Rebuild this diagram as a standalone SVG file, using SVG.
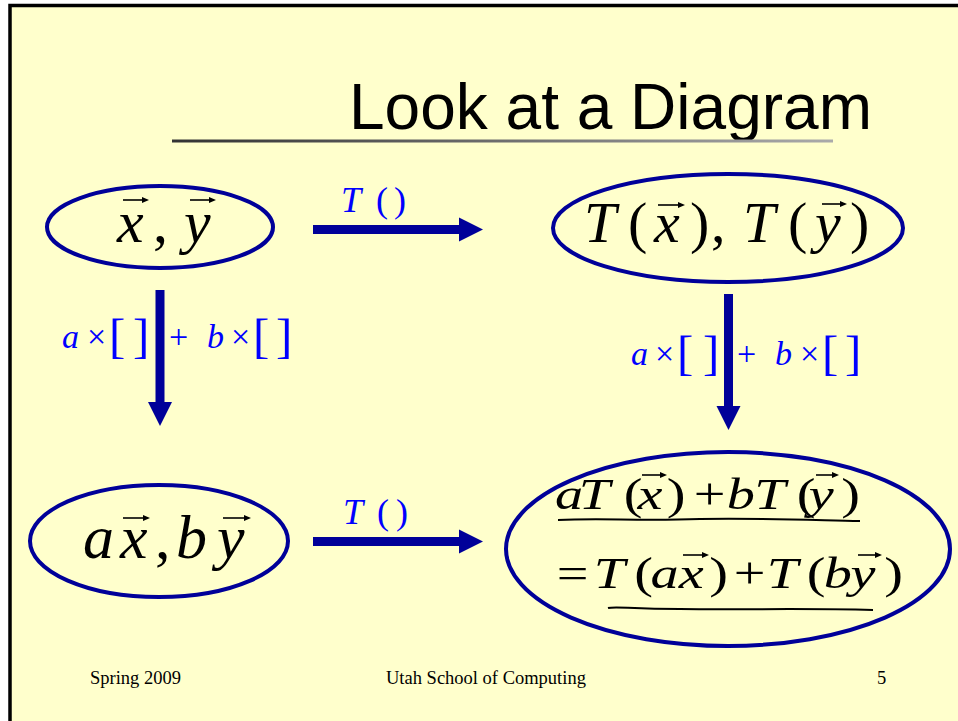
<svg xmlns="http://www.w3.org/2000/svg" width="958" height="721" viewBox="0 0 958 721">
<style>
.node ellipse{fill:none;stroke:#000099;stroke-width:4}
.m{font-family:"Liberation Serif","Times New Roman",serif;fill:#000}
.i{font-style:italic}
.lbl{font-family:"Liberation Serif","Times New Roman",serif;fill:#0000FF}
.vec{stroke:#000;stroke-width:1.6;fill:none}
.conn line{stroke:#000099;stroke-width:9}
.foot{font-family:"Liberation Serif","Times New Roman",serif;font-size:18.5px;fill:#000}
.ul{fill:none;stroke:#000;stroke-width:2}
</style>
<defs>
<linearGradient id="tg" x1="0" x2="1" y1="0" y2="0">
<stop offset="0" stop-color="#333333"/>
<stop offset="1" stop-color="#aaaaaa"/>
</linearGradient>
<marker id="ah" markerUnits="userSpaceOnUse" markerWidth="26" markerHeight="26" refX="2" refY="12" orient="auto" viewBox="0 0 26 24">
<path d="M0,0 L24,12 L0,24 Z" fill="#000099"/>
</marker>
<marker id="va" markerUnits="userSpaceOnUse" markerWidth="8" markerHeight="8" refX="1" refY="3" orient="auto" viewBox="0 0 8 6">
<path d="M0,0 L7,3 L0,6 Z" fill="#000"/>
</marker>
</defs>
<rect x="0" y="0" width="958" height="721" fill="#ffffff"/>
<rect x="10" y="5.5" width="960" height="730" fill="#FFFFCC" stroke="#000" stroke-width="3.5"/>

<g id="title">
<text x="349" y="129" font-family="'Liberation Sans',Arial,sans-serif" font-size="64" fill="#000">Look at a Diagram</text>
<rect x="172" y="139.5" width="661" height="3" fill="url(#tg)"/>
</g>

<g id="node-xy" class="node">
<ellipse cx="160" cy="227" rx="113" ry="41"/>
<text class="m i" font-size="60" y="242"><tspan x="117">x</tspan></text>
<text class="m" font-size="60" y="242"><tspan x="153">,</tspan></text>
<text class="m i" font-size="60" y="242"><tspan x="184">y</tspan></text>
<path class="vec" d="M123,200 H143" marker-end="url(#va)"/>
<path class="vec" d="M190,200 H210" marker-end="url(#va)"/>
</g>

<g id="node-Txy" class="node">
<ellipse cx="728" cy="228" rx="175" ry="54"/>
<text class="m i" font-size="58" y="242"><tspan x="584">T</tspan><tspan x="654">x</tspan><tspan x="743">T</tspan><tspan x="815">y</tspan></text>
<text class="m" font-size="58" y="242"><tspan x="628">(</tspan><tspan x="690">)</tspan><tspan x="711">,</tspan><tspan x="788">(</tspan><tspan x="850">)</tspan></text>
<path class="vec" d="M658,205 H679" marker-end="url(#va)"/>
<path class="vec" d="M822,204 H841" marker-end="url(#va)"/>
</g>

<g id="node-axby" class="node">
<ellipse cx="159" cy="541" rx="129" ry="56"/>
<text class="m i" font-size="62" y="558"><tspan x="83">a</tspan><tspan x="120">x</tspan><tspan x="176">b</tspan><tspan x="217">y</tspan></text>
<text class="m" font-size="62" y="558"><tspan x="155">,</tspan></text>
<path class="vec" d="M123,518 H144" marker-end="url(#va)"/>
<path class="vec" d="M223,518 H245" marker-end="url(#va)"/>
</g>

<g id="node-result" class="node">
<ellipse cx="728" cy="549" rx="222" ry="97"/>
<g transform="matrix(1.25 0 0 1 0 0)">
<text class="m i" font-size="45" y="509"><tspan x="444">a</tspan><tspan x="463">T</tspan><tspan x="510">x</tspan><tspan x="581.5">b</tspan><tspan x="603.5">T</tspan><tspan x="647">y</tspan></text>
<text class="m" font-size="45" y="509"><tspan x="499">(</tspan><tspan x="533.5">)</tspan><tspan x="555">+</tspan><tspan x="637.5">(</tspan><tspan x="673">)</tspan></text>
<text class="m i" font-size="45" y="588"><tspan x="475">T</tspan><tspan x="520.5">a</tspan><tspan x="543">x</tspan><tspan x="613.5">T</tspan><tspan x="659">b</tspan><tspan x="680.5">y</tspan></text>
<text class="m" font-size="45" y="588"><tspan x="445.5">=</tspan><tspan x="507.5">(</tspan><tspan x="567.5">)</tspan><tspan x="587">+</tspan><tspan x="645.5">(</tspan><tspan x="707.5">)</tspan></text>
</g>
<path class="vec" d="M642,475 H661" marker-end="url(#va)"/>
<path class="vec" d="M816,475 H833" marker-end="url(#va)"/>
<path class="vec" d="M683,555 H703" marker-end="url(#va)"/>
<path class="vec" d="M858,555 H876" marker-end="url(#va)"/>
<path class="ul" d="M558,520 C600,518 640,521 700,519 C760,518 810,520 860,521"/>
<path class="ul" d="M608,608 C615,606 630,609 680,609 C740,610 800,608 873,610"/>
</g>

<g id="connectors" class="conn">
<line x1="313" y1="229.5" x2="461" y2="229.5" marker-end="url(#ah)"/>
<line x1="313" y1="541.5" x2="461" y2="541.5" marker-end="url(#ah)"/>
<line x1="160" y1="290" x2="160" y2="404" marker-end="url(#ah)"/>
<line x1="728.5" y1="294" x2="728.5" y2="408" marker-end="url(#ah)"/>
</g>

<g id="labels">
<text class="lbl" font-size="36" y="212"><tspan x="341" font-style="italic">T</tspan><tspan x="376">(</tspan><tspan x="394">)</tspan></text>
<text class="lbl" font-size="36" y="524"><tspan x="343" font-style="italic">T</tspan><tspan x="377">(</tspan><tspan x="396">)</tspan></text>

<text class="lbl" font-size="34" y="348"><tspan x="62" font-style="italic">a</tspan><tspan x="87">×</tspan><tspan x="169">+</tspan><tspan x="207" font-style="italic">b</tspan><tspan x="231">×</tspan></text>
<text class="lbl" font-size="49" y="352"><tspan x="109">[</tspan><tspan x="133">]</tspan><tspan x="253">[</tspan><tspan x="276">]</tspan></text>

<text class="lbl" font-size="34" y="365"><tspan x="631" font-style="italic">a</tspan><tspan x="655">×</tspan><tspan x="737">+</tspan><tspan x="775" font-style="italic">b</tspan><tspan x="800">×</tspan></text>
<text class="lbl" font-size="49" y="369"><tspan x="677">[</tspan><tspan x="703">]</tspan><tspan x="822">[</tspan><tspan x="845">]</tspan></text>
</g>

<g id="footer">
<text class="foot" x="90" y="684">Spring 2009</text>
<text class="foot" x="386" y="684">Utah School of Computing</text>
<text class="foot" x="877" y="684">5</text>
</g>
</svg>
